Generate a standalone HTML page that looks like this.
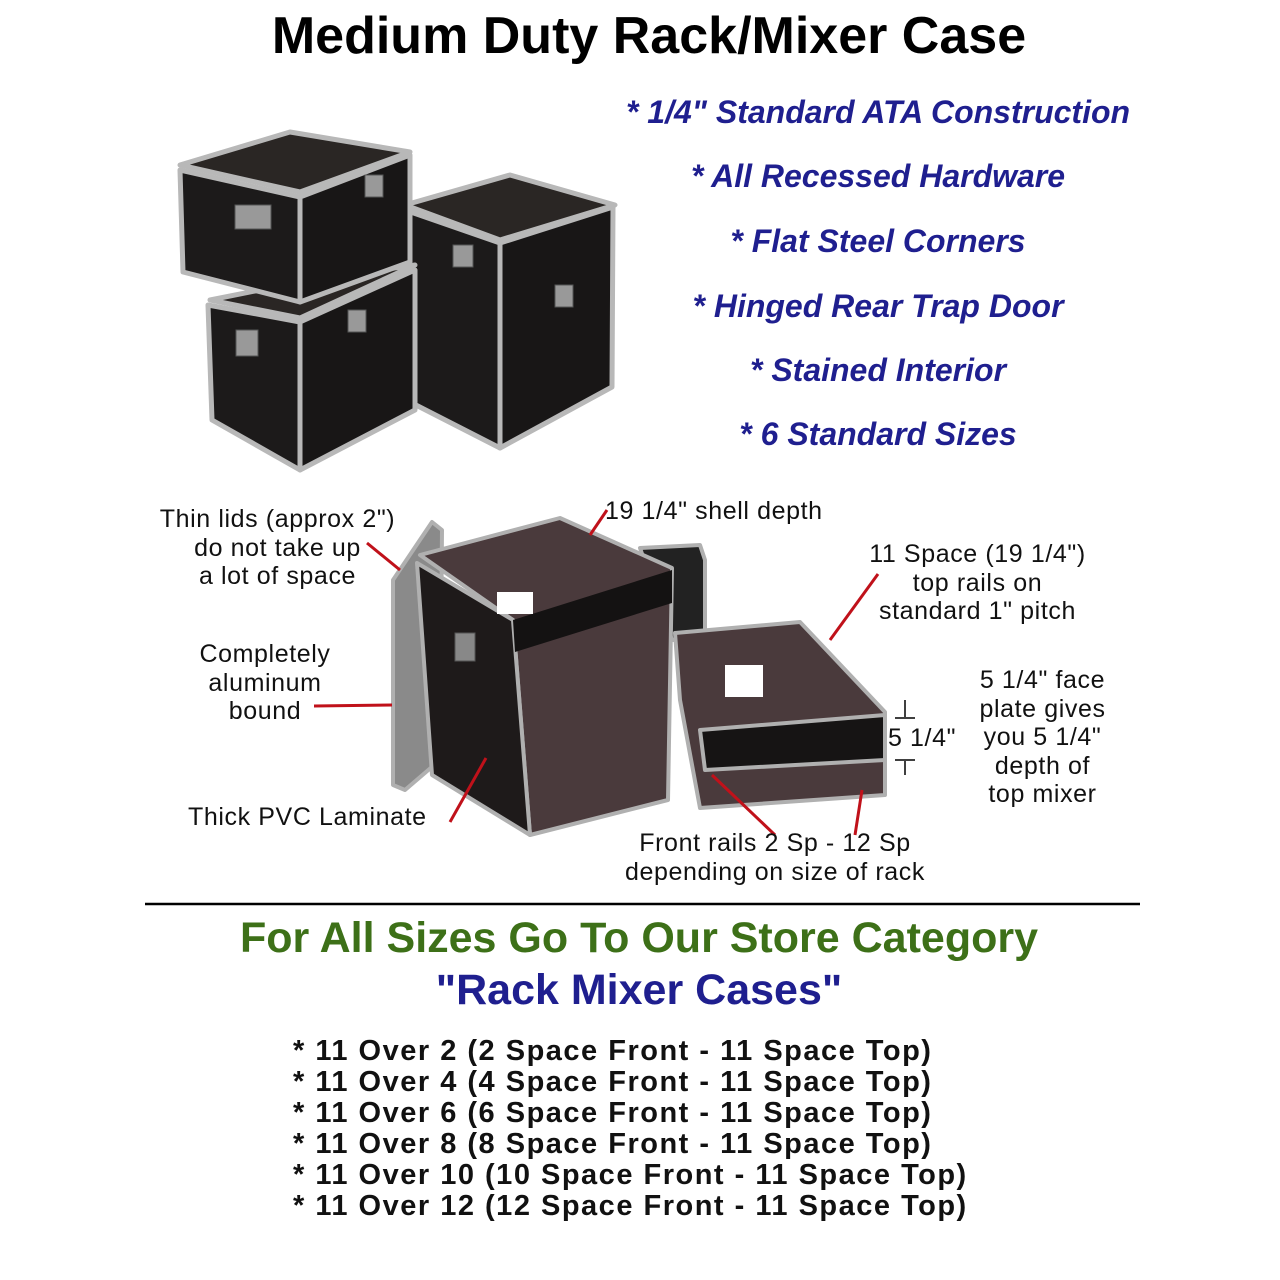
<!DOCTYPE html>
<html><head><meta charset="utf-8"><style>
html,body{margin:0;padding:0;background:#fff;}
body{width:1280px;height:1280px;position:relative;overflow:hidden;font-family:"Liberation Sans",Arial,sans-serif;}
.t{position:absolute;white-space:nowrap;}
.title{left:0;width:1298px;text-align:center;top:6px;font-size:52px;font-weight:bold;color:#000;}
.blue{color:#1f1f8f;font-weight:bold;font-style:italic;font-size:32px;left:600px;width:556px;text-align:center;}
.lbl{font-size:25px;letter-spacing:0.6px;color:#111;text-align:center;line-height:28.5px;}
.list{left:293px;font-size:29px;letter-spacing:1.5px;font-weight:bold;color:#111;line-height:31px;top:1036px;}
</style></head><body>
<div class="t title">Medium Duty Rack/Mixer Case</div>
<div class="t blue" style="top:94px">* 1/4" Standard ATA Construction</div>
<div class="t blue" style="top:158px">* All Recessed Hardware</div>
<div class="t blue" style="top:223px">* Flat Steel Corners</div>
<div class="t blue" style="top:288px">* Hinged Rear Trap Door</div>
<div class="t blue" style="top:352px">* Stained Interior</div>
<div class="t blue" style="top:416px">* 6 Standard Sizes</div>

<svg width="1280" height="1280" style="position:absolute;left:0;top:0" xmlns="http://www.w3.org/2000/svg">
<g stroke="#b8b8b8" stroke-width="5" stroke-linejoin="round">
<polygon points="405,205 510,175 615,205 500,240" fill="#2a2624"/>
<polygon points="405,210 500,243 500,448 410,402" fill="#1c1a1a"/>
<polygon points="500,243 613,207 612,387 500,448" fill="#181616"/>
<polygon points="210,300 300,282 415,265 300,318" fill="#2a2624"/>
<polygon points="208,305 300,322 300,470 212,420" fill="#1c1a1a"/>
<polygon points="300,322 415,270 415,410 300,470" fill="#181616"/>
<polygon points="180,165 290,132 410,152 300,192" fill="#2a2624"/>
<polygon points="180,170 300,197 300,302 183,272" fill="#1c1a1a"/>
<polygon points="300,197 410,155 410,262 300,302" fill="#181616"/>
</g>
<g fill="#999" stroke="#555">
<rect x="235" y="205" width="36" height="24"/><rect x="236" y="330" width="22" height="26"/><rect x="453" y="245" width="20" height="22"/>
<rect x="555" y="285" width="18" height="22"/><rect x="365" y="175" width="18" height="22"/><rect x="348" y="310" width="18" height="22"/>
</g>
<g stroke="#b0b0b0" stroke-width="4" stroke-linejoin="round">
<polygon points="393,580 432,522 442,530 440,760 405,790 393,785" fill="#8a8a8a"/>
<polygon points="640,548 700,545 705,560 705,640 672,640" fill="#222"/>
<polygon points="420,555 560,518 672,568 668,800 530,835 513,620" fill="#4a3a3c"/>
<polygon points="417,563 513,620 530,835 432,775" fill="#1e1a1a"/>
<polygon points="675,633 800,622 885,712 885,795 700,808 680,700" fill="#4a3a3c"/>
<polygon points="700,730 885,715 885,760 705,770" fill="#161414"/>
</g>
<polygon points="513,620 672,570 672,603 515,652" fill="#141212"/>
<rect x="497" y="592" width="36" height="22" fill="#fff"/>
<rect x="725" y="665" width="38" height="32" fill="#fff"/>
<rect x="455" y="633" width="20" height="28" fill="#888" stroke="#555"/>
<g stroke="#c0111a" stroke-width="3" fill="none">
<line x1="367" y1="543" x2="400" y2="570"/>
<line x1="314" y1="706" x2="392" y2="705"/>
<line x1="450" y1="822" x2="486" y2="758"/>
<line x1="607" y1="510" x2="590" y2="535"/>
<line x1="878" y1="574" x2="830" y2="640"/>
<line x1="775" y1="835" x2="712" y2="775"/>
<line x1="855" y1="835" x2="862" y2="790"/>
</g>
<g stroke="#000" stroke-width="1.5" fill="none">
<line x1="895" y1="718" x2="915" y2="718"/><line x1="905" y1="700" x2="905" y2="717"/>
<line x1="895" y1="760" x2="915" y2="760"/><line x1="905" y1="761" x2="905" y2="775"/>
</g>
<line x1="145" y1="904" x2="1140" y2="904" stroke="#000" stroke-width="2.5"/>
</svg>

<div class="t lbl" style="left:140px;top:505px;width:275px">Thin lids (approx 2")<br>do not take up<br>a lot of space</div>
<div class="t lbl" style="left:165px;top:640px;width:200px">Completely<br>aluminum<br>bound</div>
<div class="t lbl" style="left:188px;top:803px">Thick PVC Laminate</div>
<div class="t lbl" style="left:605px;top:497px">19 1/4" shell depth</div>
<div class="t lbl" style="left:840px;top:540px;width:275px">11 Space (19 1/4")<br>top rails on<br>standard 1" pitch</div>
<div class="t lbl" style="left:888px;top:724px">5 1/4"</div>
<div class="t lbl" style="left:955px;top:666px;width:175px">5 1/4" face<br>plate gives<br>you 5 1/4"<br>depth of<br>top mixer</div>
<div class="t lbl" style="left:595px;top:829px;width:360px">Front rails 2 Sp - 12 Sp<br>depending on size of rack</div>

<div class="t" style="left:0;width:1278px;text-align:center;top:914px;font-size:43px;font-weight:bold;color:#3d7018">For All Sizes Go To Our Store Category</div>
<div class="t" style="left:0;width:1278px;text-align:center;top:966px;font-size:43px;font-weight:bold;color:#1f1f8f">"Rack Mixer Cases"</div>
<div class="t list">* 11 Over 2 (2 Space Front - 11 Space Top)<br>* 11 Over 4 (4 Space Front - 11 Space Top)<br>* 11 Over 6 (6 Space Front - 11 Space Top)<br>* 11 Over 8 (8 Space Front - 11 Space Top)<br>* 11 Over 10 (10 Space Front - 11 Space Top)<br>* 11 Over 12 (12 Space Front - 11 Space Top)</div>
</body></html>
